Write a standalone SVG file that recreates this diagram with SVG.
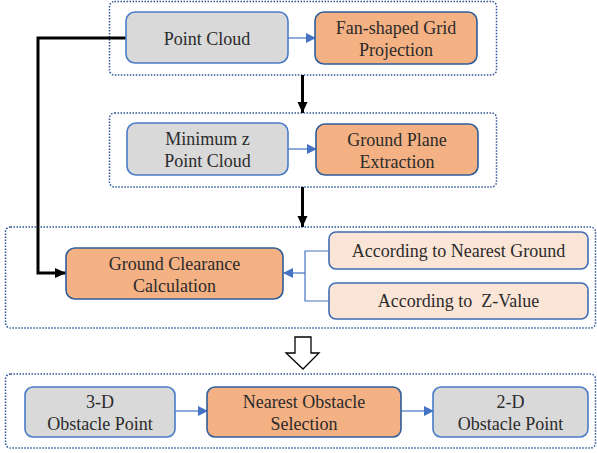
<svg xmlns="http://www.w3.org/2000/svg" width="597" height="453" viewBox="0 0 597 453">
  <defs>
    <marker id="blueHead" markerWidth="10" markerHeight="10" refX="9" refY="5" orient="auto" markerUnits="userSpaceOnUse">
      <path d="M0,0 L10,5 L0,10 Z" fill="#4472c4"/>
    </marker>
    <marker id="blackHead" markerWidth="12" markerHeight="12" refX="11" refY="6" orient="auto" markerUnits="userSpaceOnUse">
      <path d="M0,1 L11,6 L0,11 Z" fill="#000"/>
    </marker>
  </defs>
  <style>
    .group { fill: none; stroke: #2f5597; stroke-width: 1.5; stroke-dasharray: 1.5 1.5; }
    .gray { fill: #d9d9d9; stroke: #4a7bc8; stroke-width: 1.6; }
    .orange { fill: #f4b183; stroke: #2f5d99; stroke-width: 1.6; }
    .peach { fill: #fbe5d6; stroke: #3f6cb4; stroke-width: 1.6; }
    .lbl { font-family: Liberation Serif, DejaVu Serif, serif; font-size: 18px; fill: #2b2b2b; text-anchor: middle; }
    .thin { fill: none; stroke: #4472c4; stroke-width: 1.2; }
    .thick { fill: none; stroke: #000; stroke-width: 3; }
  </style>

  <rect width="597" height="453" fill="#fff"/>

  <!-- dotted stage frames -->
  <g id="frames">
    <rect class="group" x="109.5" y="1.5" width="387" height="73.5" rx="5"/>
    <rect class="group" x="109.5" y="113" width="387" height="74" rx="5"/>
    <rect class="group" x="5.5" y="227" width="590" height="101" rx="5"/>
    <rect class="group" x="5.5" y="374" width="590" height="74" rx="5"/>
  </g>

  <!-- connectors -->
  <g id="connectors">
    <line class="thin" x1="288" y1="38" x2="315" y2="38" marker-end="url(#blueHead)"/>
    <line class="thin" x1="288" y1="149" x2="316" y2="149" marker-end="url(#blueHead)"/>
    <path class="thin" d="M329,251 H305 V301 H329"/>
    <line class="thin" x1="305" y1="273" x2="284" y2="273" marker-end="url(#blueHead)"/>
    <line class="thin" x1="175" y1="411" x2="207" y2="411" marker-end="url(#blueHead)"/>
    <line class="thin" x1="401" y1="411" x2="433" y2="411" marker-end="url(#blueHead)"/>
    <line class="thick" x1="302.5" y1="75" x2="302.5" y2="113" marker-end="url(#blackHead)"/>
    <line class="thick" x1="302.5" y1="187" x2="302.5" y2="227" marker-end="url(#blackHead)"/>
    <path class="thick" d="M126,38 H38 V273 H66" marker-end="url(#blackHead)"/>
    <!-- hollow block arrow between stages -->
    <path d="M295,337 H311 V353 H319 L303,369 L286,353 H295 Z" fill="#fff" stroke="#000" stroke-width="1.3"/>
  </g>

  <g id="point-cloud">
    <rect class="gray" x="126" y="12" width="162" height="51" rx="9"/>
    <text class="lbl" font-family="Liberation Serif" x="207" y="45">Point Cloud</text>
  </g>
  <g id="fan-grid">
    <rect class="orange" x="315" y="12" width="162" height="52" rx="9"/>
    <text class="lbl" x="396" y="34">Fan-shaped Grid</text>
    <text class="lbl" x="396" y="56">Projection</text>
  </g>
  <g id="min-z">
    <rect class="gray" x="127" y="123" width="161" height="52" rx="9"/>
    <text class="lbl" x="207.5" y="145">Minimum z</text>
    <text class="lbl" x="207.5" y="167">Point Cloud</text>
  </g>
  <g id="ground-plane">
    <rect class="orange" x="316" y="124" width="162" height="51" rx="9"/>
    <text class="lbl" x="397" y="146">Ground Plane</text>
    <text class="lbl" x="397" y="168">Extraction</text>
  </g>
  <g id="ground-clearance">
    <rect class="orange" x="66" y="248" width="217" height="51" rx="9"/>
    <text class="lbl" x="174.5" y="270">Ground Clearance</text>
    <text class="lbl" x="174.5" y="292">Calculation</text>
  </g>
  <g id="nearest-ground">
    <rect class="peach" x="329" y="232" width="259" height="37" rx="7"/>
    <text class="lbl" x="458.5" y="257">According to Nearest Ground</text>
  </g>
  <g id="z-value">
    <rect class="peach" x="329" y="283" width="259" height="36" rx="7"/>
    <text class="lbl" x="458.5" y="307" xml:space="preserve">According to  Z-Value</text>
  </g>
  <g id="obstacle-3d">
    <rect class="gray" x="25" y="387" width="150" height="50" rx="8"/>
    <text class="lbl" x="100" y="408">3-D</text>
    <text class="lbl" x="100" y="430">Obstacle Point</text>
  </g>
  <g id="nearest-obstacle">
    <rect class="orange" x="207" y="387" width="194" height="50" rx="8"/>
    <text class="lbl" x="304" y="408">Nearest Obstacle</text>
    <text class="lbl" x="304" y="430">Selection</text>
  </g>
  <g id="obstacle-2d">
    <rect class="gray" x="433" y="387" width="155" height="50" rx="8"/>
    <text class="lbl" x="510.5" y="408">2-D</text>
    <text class="lbl" x="510.5" y="430">Obstacle Point</text>
  </g>
</svg>
